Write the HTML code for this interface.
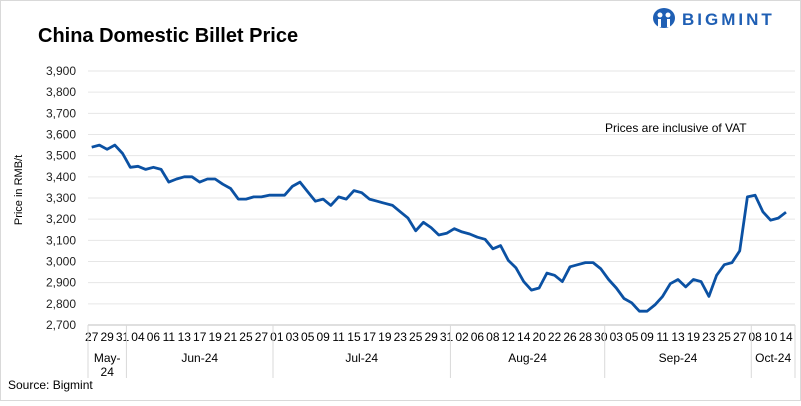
<!DOCTYPE html>
<html><head><meta charset="utf-8"><style>
body{margin:0;background:#fff;}
svg text{font-family:"Liberation Sans",sans-serif;}
</style></head><body>
<svg id="c" width="801" height="401" viewBox="0 0 801 401">
<rect x="0.5" y="0.5" width="800" height="400" fill="#fff" stroke="#d9d9d9"/>
<text x="38" y="42" font-size="20" font-weight="bold" fill="#000">China Domestic Billet Price</text>
<g>
<ellipse cx="664" cy="18" rx="11" ry="10" fill="#1f5fb4"/>
<circle cx="660" cy="15" r="2.5" fill="#fff"/><circle cx="668" cy="15" r="2.5" fill="#fff"/>
<rect x="658" y="19" width="3" height="8" fill="#fff"/><rect x="667" y="19" width="3" height="8" fill="#fff"/>
<text x="682" y="25" font-size="17" font-weight="bold" fill="#1f5fb4" letter-spacing="3">BIGMINT</text>
</g>
<text x="605" y="132" font-size="12" fill="#000">Prices are inclusive of VAT</text>
<text transform="translate(22,190) rotate(-90)" text-anchor="middle" font-size="11" fill="#000">Price in RMB/t</text>
<text x="8" y="389" font-size="12" fill="#000">Source: Bigmint</text>
<g id="grid"></g><g id="xax"></g><g id="ser"></g>
</svg>
<script>
const yTicks=[2700,2800,2900,3000,3100,3200,3300,3400,3500,3600,3700,3800,3900];
const prices=[3540,3550,3530,3550,3510,3445,3450,3435,3445,3435,3375,3390,3400,3400,3375,3390,3390,3365,3345,3295,3295,3305,3305,3313,3313,3313,3355,3375,3330,3285,3295,3265,3305,3295,3335,3325,3295,3285,3275,3265,3235,3205,3145,3185,3160,3125,3133,3155,3140,3130,3115,3105,3060,3075,3005,2970,2905,2865,2875,2945,2935,2905,2975,2985,2995,2995,2965,2915,2875,2825,2805,2765,2765,2795,2835,2895,2915,2880,2915,2905,2835,2935,2985,2995,3050,3305,3313,3235,3195,3205,3233];
const dayLabels=["27","29","31","04","06","11","13","17","19","21","25","27","01","03","05","09","11","15","17","19","23","25","29","31","02","06","08","12","14","20","22","26","28","30","03","05","09","11","13","19","23","25","27","08","10","14"];
const months=["May-24","Jun-24","Jul-24","Aug-24","Sep-24","Oct-24"];
const monthBounds=[-0.5,4.5,23.5,46.5,66.5,85.5,90.5];
const NS="http://www.w3.org/2000/svg";
const L=88,R=795,T=71,B=325,x0=91.7,n=prices.length;
const step=(786-x0)/(n-1);
const xs=i=>x0+i*step;
const ys=v=>B-(v-2700)/(3900-2700)*(B-T);
function mk(p,tag,a){const e=document.createElementNS(NS,tag);for(const k in a)e.setAttribute(k,a[k]);p.appendChild(e);return e;}
const g=document.getElementById('grid'),xa=document.getElementById('xax'),s=document.getElementById('ser');
yTicks.forEach(v=>{
 const ln=mk(g,'line',{x1:L,x2:R,y1:ys(v),y2:ys(v),stroke:v===2700?'#bfbfbf':'#e6e6e6','stroke-width':1});
 
 
 const t=mk(g,'text',{x:76,y:ys(v)+4,'text-anchor':'end','font-size':12,fill:'#222'});
 t.textContent=v.toLocaleString('en-US');
 
 
});
dayLabels.forEach((d,k)=>{
 const t=mk(xa,'text',{x:xs(k*2),y:341,'text-anchor':'middle','font-size':12,fill:'#000'});
 t.textContent=d;
 
 
});
monthBounds.forEach((b,k)=>{
 const bx=k===0?L:(k===monthBounds.length-1?R:(xs(b)));
 const ln=mk(xa,'line',{x1:bx,x2:bx,y1:B,y2:378,stroke:'#d9d9d9','stroke-width':1});
 
 
});
months.forEach((m,k)=>{
 const a=k===0?L:xs(monthBounds[k]),b=k===months.length-1?R:xs(monthBounds[k+1]);
 const cx=(a+b)/2;
 const t=mk(xa,'text',{x:cx,y:362,'text-anchor':'middle','font-size':12,fill:'#000'});
 if(k===0){t.textContent='May-';const t2=mk(xa,'text',{x:cx,y:376,'text-anchor':'middle','font-size':12,fill:'#000'});t2.textContent='24';
  
  }
 else t.textContent=m;
 
 
});
const p=mk(s,'polyline',{points:prices.map((v,i)=>xs(i).toFixed(1)+','+ys(v).toFixed(1)).join(' '),fill:'none',stroke:'#0b51a3','stroke-width':2.8,'stroke-linejoin':'round'});


</script>
</body></html>
